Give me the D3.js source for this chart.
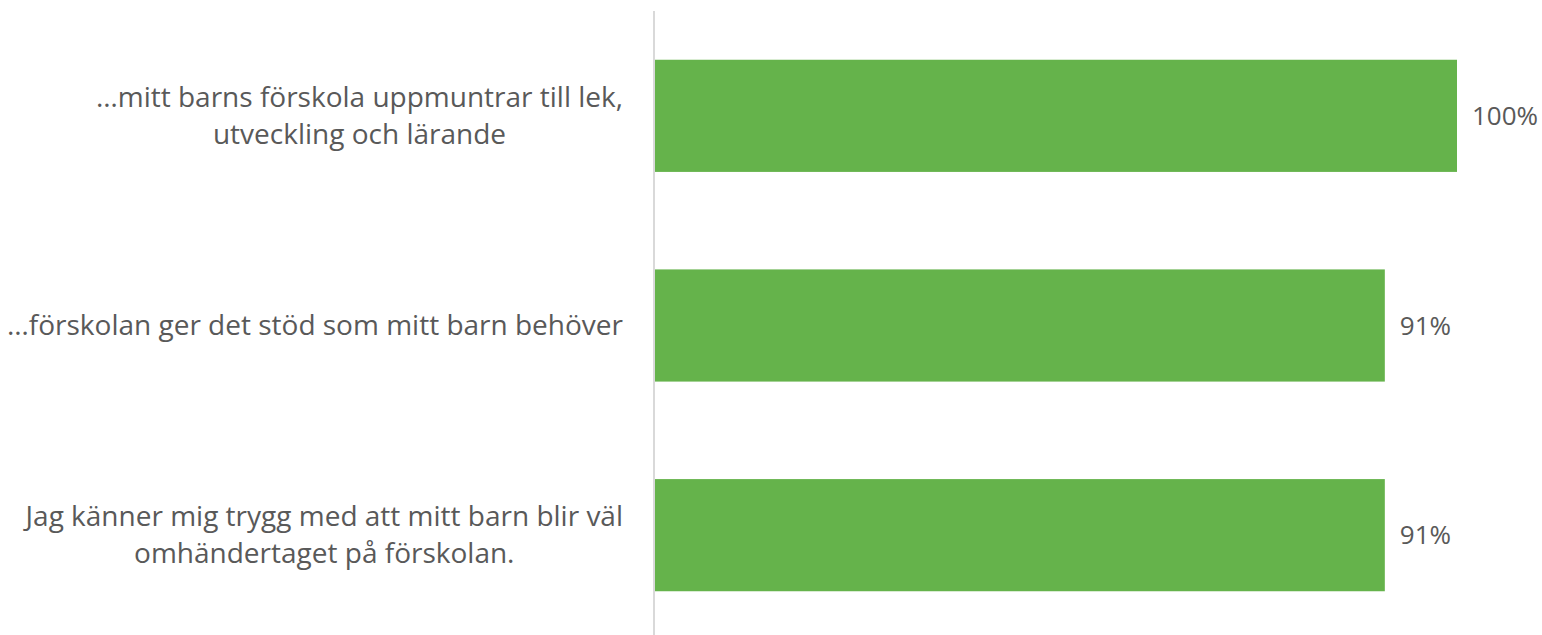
<!DOCTYPE html>
<html>
<head>
<meta charset="utf-8">
<script src="https://cdn.jsdelivr.net/npm/d3@7"></script>
<style>
  body { margin: 0; background: #fff; }
  text { font-family: "Open Sans", sans-serif; fill: #595959; }
</style>
</head>
<body>
<script>
// Chart data
let categories = [
  ["…mitt barns förskola uppmuntrar till lek,", "utveckling och lärande"],
  ["…förskolan ger det stöd som mitt barn behöver"],
  ["Jag känner mig trygg med att mitt barn blir väl", "omhändertaget på förskolan."]
];
let values = [1.00, 0.91, 0.91];
let valueLabels = ["100%", "91%", "91%"];

let w = 1542, h = 635;
let x0 = 655, x1 = 1457, labelRight = 623;

let svg = d3.select("body")
  .append("svg")
  .attr("width", w)
  .attr("height", h);

let keys = categories.map((d, i) => i);

let xScale = d3.scaleLinear()
  .domain([0, 1])
  .range([x0, x1]);

let yScale = d3.scaleBand()
  .domain(keys)
  .range([11, 640])
  .paddingInner(0.465)
  .paddingOuter(0.2325);

// Bars
svg.selectAll("rect.bar")
  .data(values)
  .enter()
  .append("rect")
  .attr("class", "bar")
  .attr("x", xScale(0))
  .attr("y", (d, i) => yScale(i))
  .attr("width", d => xScale(d) - xScale(0))
  .attr("height", yScale.bandwidth())
  .attr("fill", "#65b34b");

// Axis line
svg.append("line")
  .attr("x1", x0 - 1).attr("x2", x0 - 1)
  .attr("y1", 11).attr("y2", h)
  .attr("stroke", "#d9d9d9")
  .attr("stroke-width", 2);

// Value labels
svg.selectAll("text.val")
  .data(values)
  .enter()
  .append("text")
  .attr("class", "val")
  .attr("x", d => xScale(d) + 15)
  .attr("y", (d, i) => yScale(i) + yScale.bandwidth() / 2)
  .attr("dy", "0.35em")
  .style("font-size", "26px")
  .text((d, i) => valueLabels[i]);

// Category labels: lines centered, block right-aligned
let lineH = 37;
categories.forEach((lines, i) => {
  let cy = yScale(i) + yScale.bandwidth() / 2;
  let g = svg.append("g");
  let texts = lines.map((s, j) => g.append("text")
    .attr("text-anchor", "middle")
    .attr("y", cy + (j - (lines.length - 1) / 2) * lineH)
    .attr("dy", "0.35em")
    .style("font-size", "28px")
    .text(s));
  let maxW = d3.max(texts, t => t.node().getComputedTextLength());
  texts.forEach(t => t.attr("x", labelRight - maxW / 2));
});
</script>
</body>
</html>
